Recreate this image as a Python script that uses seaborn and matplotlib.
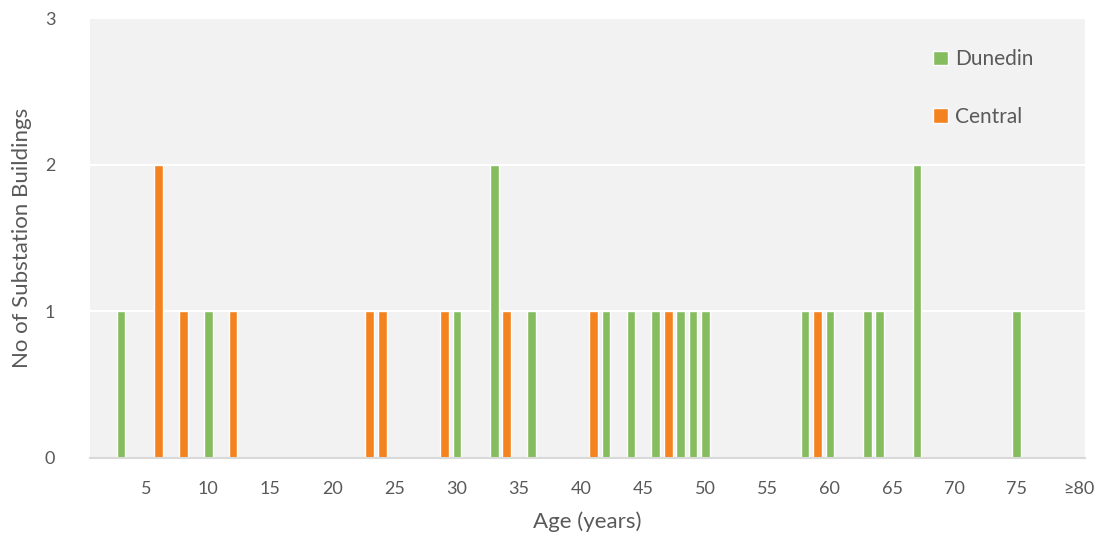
import pandas as pd
import matplotlib.pyplot as plt
import seaborn as sns

# ages (years) of each substation building, one entry per building
dunedin_ages = [3, 10, 30, 33, 33, 36, 42, 44, 46, 48, 49, 50, 58, 60, 63, 64, 67, 67, 75]
central_ages = [6, 6, 8, 12, 23, 24, 29, 34, 41, 47, 59]

age_bins = list(range(1, 81))
age_labels = [str(a) for a in age_bins[:-1]] + ['≥80']
series_names = ['Dunedin', 'Central']
series_colors = ['#85BC5E', '#F4821F']

# count buildings per age for each series
rows = []
for name, ages in zip(series_names, [dunedin_ages, central_ages]):
    for a, lab in zip(age_bins, age_labels):
        rows.append({'Age': lab, 'Series': name, 'Count': ages.count(a)})
data = pd.DataFrame(rows)

sns.set_style('white')
plt.rcParams['font.family'] = ['Lato', 'DejaVu Sans']

fig = plt.figure(figsize=(10.98, 5.38), dpi=100)
ax = fig.add_axes([0.082, 0.149, 0.906, 0.8175])
ax.set_facecolor('#F2F2F2')

sns.barplot(data=data, x='Age', y='Count', hue='Series', order=age_labels,
            hue_order=series_names, palette=series_colors, dodge=False,
            width=0.7, ax=ax, saturation=1)

ax.set_xlim(-0.5, len(age_labels) - 0.5)
ax.set_ylim(0, 3)
ax.set_yticks([0, 1, 2, 3])
ax.yaxis.grid(True, color='white', linewidth=1.5)
ax.set_axisbelow(True)

tick_pos = [i for i, lab in enumerate(age_labels) if (i + 1) % 5 == 0]
ax.set_xticks(tick_pos)
ax.set_xticklabels([age_labels[i] for i in tick_pos])
ax.tick_params(axis='x', length=0, labelsize=13, colors='#595959', pad=17)
ax.tick_params(axis='y', length=0, labelsize=13, colors='#595959', pad=25)

for side in ['top', 'right', 'left']:
    ax.spines[side].set_visible(False)
ax.spines['bottom'].set_color('#D9D9D9')
ax.spines['bottom'].set_linewidth(1.5)

ax.set_xlabel('Age (years)', fontsize=16, color='#595959', labelpad=10)
ax.set_ylabel('No of Substation Buildings', fontsize=16, color='#595959', labelpad=9)

leg = ax.legend(loc='upper left', bbox_to_anchor=(0.837, 0.953), frameon=False,
                borderpad=0, fontsize=15, labelspacing=1.8, handlelength=0.7,
                handleheight=0.7, handletextpad=0.35)
for t in leg.get_texts():
    t.set_color('#595959')

fig.savefig('out.png', dpi=100)
